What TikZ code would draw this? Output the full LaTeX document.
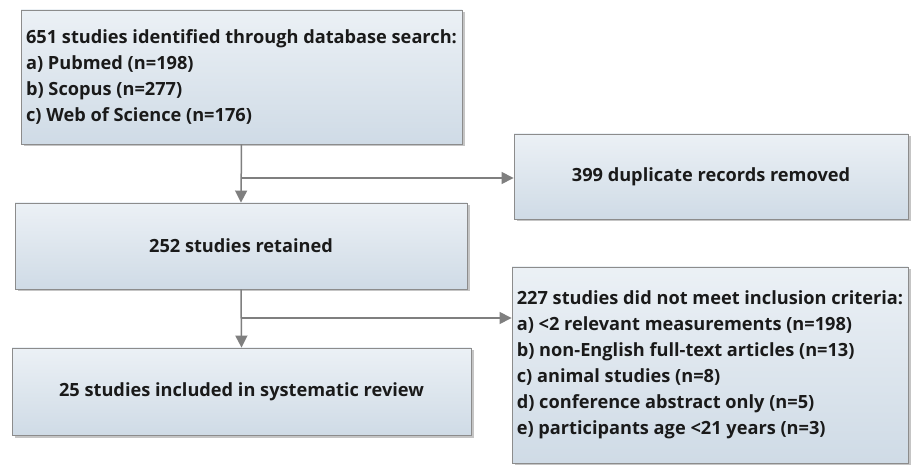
\documentclass[tikz,border=0pt]{standalone}
\usepackage{fontspec}
\setmainfont{Open Sans}
\usetikzlibrary{arrows.meta,shadows,calc}
\definecolor{bordc}{HTML}{8C8C8C}
\definecolor{arrc}{HTML}{7F7F7F}
\definecolor{btop}{HTML}{F4F7FA}
\definecolor{bbot}{HTML}{C6D4E1}
\definecolor{bstrip}{HTML}{D9E3EC}
\definecolor{txtc}{HTML}{1A1A1A}
\pgfdeclareverticalshading{boxshade}{100bp}{color(0bp)=(bstrip); color(4bp)=(bstrip); color(9bp)=(bbot); color(90bp)=(btop); color(100bp)=(btop)}
\begin{document}
\begin{tikzpicture}[x=1pt,y=-1pt,
  flowbox/.style={draw=bordc, line width=0.9pt, shading=boxshade, inner sep=0pt,
    drop shadow={shadow xshift=2.5pt, shadow yshift=-2.5pt, opacity=0.45, fill=gray},
    font=\fontsize{18.2}{26}\selectfont\bfseries, text=txtc},
  conn/.style={draw=arrc, line width=1.5pt},
  arr/.style={conn, -{Triangle[length=12pt,width=12pt]}}]
\useasboundingbox (0,0) rectangle (914,465);
\clip (0,0) rectangle (914,465);
\fill[white] (0,0) rectangle (914,465);
% boxes
\node[flowbox, minimum width=441pt, minimum height=134pt, align=left] (b1) at (241.5,77)
  {651 studies identified through database search:\\a) Pubmed (n=198)\\b) Scopus (n=277)\\c) Web of Science (n=176)};
\node[flowbox, minimum width=394pt, minimum height=85pt, align=center] (b2) at (711,176.5) {399 duplicate records removed};
\node[flowbox, minimum width=452pt, minimum height=86pt, align=center] (b3) at (241,246) {252 studies retained};
\node[flowbox, minimum width=459pt, minimum height=87pt, align=center] (b4) at (241.5,391.5) {25 studies included in systematic review};
\node[flowbox, minimum width=396pt, minimum height=196pt, align=left] (b5) at (710,365)
  {227 studies did not meet inclusion criteria:\\a) <2 relevant measurements (n=198)\\b) non-English full-text articles (n=13)\\c) animal studies (n=8)\\d) conference abstract only (n=5)\\e) participants age <21 years (n=3)};
% connectors
\coordinate (j1) at (241.5,178);
\coordinate (j2) at (241.5,318);
\draw[arr] (b1.south) -- (b3.north);
\draw[arr] (j1) -- (j1 -| b2.west);
\draw[arr] (b3.south) -- (b4.north);
\draw[arr] (j2) -- (j2 -| b5.west);
\end{tikzpicture}
\end{document}
